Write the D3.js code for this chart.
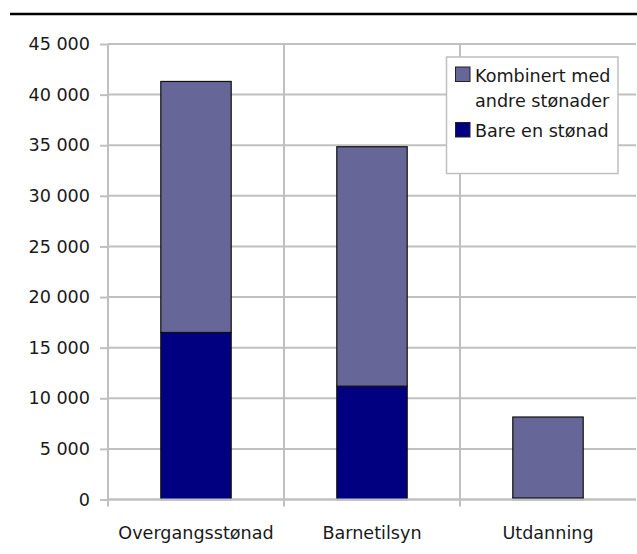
<!DOCTYPE html>
<html><head><meta charset="utf-8">
<script src="https://cdn.jsdelivr.net/npm/d3@7"></script>
<style>
body{margin:0;background:#fff;}
svg text{font-family:"DejaVu Sans",sans-serif;fill:#1a1a1a;}
</style></head>
<body><svg id="c" width="637" height="554"></svg>
<script>
const categories = ["Overgangsstønad", "Barnetilsyn", "Utdanning"];
const bareEn = [16500, 11200, 150];
const kombinert = [24800, 23650, 8000];
const seriesNames = ["Bare en stønad", "Kombinert med andre stønader"];
const seriesColors = ["#000080", "#666699"];
const yTicks = [0, 5000, 10000, 15000, 20000, 25000, 30000, 35000, 40000, 45000];

const FS = "17.6px";
const svg = d3.select("#c");
const m = {l:108, r:636, t:44, b:499.5};
svg.append("line").attr("x1",10).attr("x2",637).attr("y1",14).attr("y2",14)
  .attr("stroke","#000").attr("stroke-width",2.5);

const x = d3.scaleBand().domain(categories).range([m.l, m.r]).paddingInner(0).paddingOuter(0);
const y = d3.scaleLinear().domain([0,45000]).range([m.b, m.t]);

const grid = svg.append("g");
const fmt = v => d3.format(",")(v).replace(/,/g, " ");
grid.selectAll(".h").data(yTicks).join("line")
  .attr("x1", m.l).attr("x2", m.r).attr("y1", d=>y(d)).attr("y2", d=>y(d))
  .attr("stroke","#c0c0c0").attr("stroke-width",2);
grid.selectAll(".v").data(categories.slice(1)).join("line")
  .attr("x1", d=>x(d)).attr("x2", d=>x(d)).attr("y1", m.t).attr("y2", m.b)
  .attr("stroke","#c0c0c0").attr("stroke-width",2);

const data = categories.map((c,i)=>({cat:c, "Bare en stønad":bareEn[i], "Kombinert med andre stønader":kombinert[i]}));
const stack = d3.stack().keys(seriesNames)(data);
const bw = x.bandwidth()*0.4;
svg.append("g").selectAll("g").data(stack).join("g")
  .attr("fill",(d,i)=>seriesColors[i])
  .selectAll("rect").data(d=>d).join("rect")
  .attr("x", d=>x(d.data.cat)+x.bandwidth()/2-bw/2)
  .attr("width", bw)
  .attr("y", d=>y(d[1]))
  .attr("height", d=>y(d[0])-y(d[1]))
  .attr("stroke","#111").attr("stroke-width",1.2);

const ya = svg.append("g").attr("transform",`translate(${m.l},0)`)
  .call(d3.axisLeft(y).tickValues(yTicks).tickFormat(fmt).tickSize(8).tickPadding(10));
ya.attr("font-family",null).attr("font-size",null);
ya.select(".domain").attr("stroke","#c0c0c0").attr("stroke-width",2).attr("d",`M0,${m.t}V${m.b}`);
ya.selectAll(".tick line").attr("stroke","#c0c0c0").attr("stroke-width",2);
ya.selectAll("text").style("font-size",FS).attr("fill","#1a1a1a");

const xa = svg.append("g").attr("transform",`translate(0,${m.b})`);
xa.append("line").attr("x1",m.l-1).attr("x2",m.r).attr("y1",0).attr("y2",0).attr("stroke","#c0c0c0").attr("stroke-width",2);
xa.selectAll(".tk").data(categories).join("line")
  .attr("x1", d=>x(d)).attr("x2", d=>x(d)).attr("y1",0).attr("y2",7)
  .attr("stroke","#c0c0c0").attr("stroke-width",2);
xa.selectAll(".lb").data(categories).join("text")
  .attr("x", d=>x(d)+x.bandwidth()/2).attr("y", 39)
  .attr("text-anchor","middle").style("font-size",FS).text(d=>d);

const lg = svg.append("g");
lg.append("rect").attr("x",446.5).attr("y",57).attr("width",171.5).attr("height",116.5)
  .attr("fill","#fff").attr("stroke","#c0c0c0").attr("stroke-width",1.5);
const leg = [
  {color:seriesColors[1], lines:["Kombinert med","andre stønader"], y:81.5},
  {color:seriesColors[0], lines:["Bare en stønad"], y:137}
];
leg.forEach(l=>{
  lg.append("rect").attr("x",455.5).attr("y",l.y-14.5).attr("width",14.5).attr("height",14.5)
    .attr("fill",l.color).attr("stroke","#222").attr("stroke-width",1);
  l.lines.forEach((t,i)=>{
    lg.append("text").attr("x",475).attr("y",l.y+i*25).style("font-size",FS).text(t);
  });
});
</script></body></html>
